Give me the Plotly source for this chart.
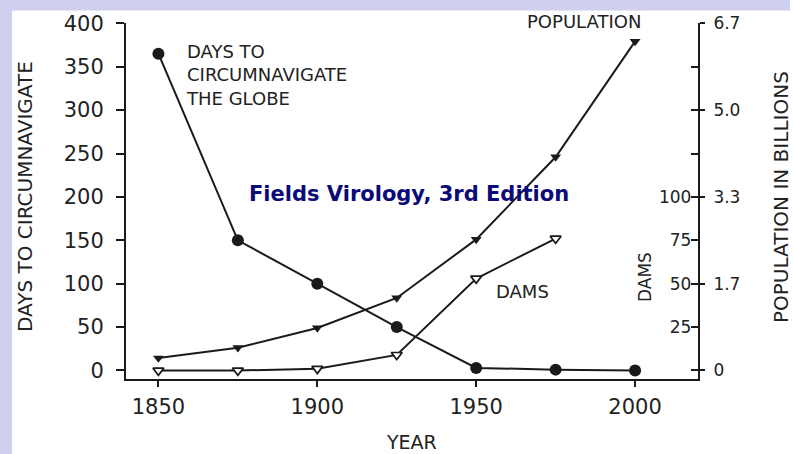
import plotly.graph_objects as go

# ---------------- data ----------------
years = [1850, 1875, 1900, 1925, 1950, 1975, 2000]
days_to_circumnavigate = [365, 150, 100, 50, 3, 1, 0]
population_billions = [0.24, 0.44, 0.82, 1.40, 2.53, 4.12, 6.35]
dam_years = [1850, 1875, 1900, 1925, 1950, 1975]
dams = [0, 0, 1, 9, 53, 76]

x_ticks = [1850, 1900, 1950, 2000]
days_ticks = [0, 50, 100, 150, 200, 250, 300, 350, 400]
pop_tickvals = [0, 1.675, 3.35, 5.025, 6.7]
pop_ticktext = ["0", "1.7", "3.3", "5.0", "6.7"]
dam_tickvals = [0, 25, 50, 75, 100, 125, 150, 175, 200]
dam_ticktext = ["0", "25", "50", "75", "100", "", "", "", ""]

# ---------------- layout geometry ----------------
W, H = 793, 454
L, R, T, B = 126, 95, 23, 75
PW, PH = W - L - R, H - T - B


def px(xp):
    return (xp - L) / PW


def py(yp):
    return (H - B - yp) / PH


INK = "#1a1a1a"
TXT = "#222222"
FONT = "DejaVu Sans"
LAV = "#CED0EE"

fig = go.Figure()

fig.add_trace(go.Scatter(
    x=years, y=days_to_circumnavigate, mode="lines+markers",
    line=dict(color=INK, width=2),
    marker=dict(symbol="circle", size=12, color=INK),
    showlegend=False, yaxis="y", cliponaxis=False))

fig.add_trace(go.Scatter(
    x=years, y=population_billions, mode="lines+markers",
    line=dict(color=INK, width=2),
    marker=dict(symbol="triangle-down", size=9.5, color=INK),
    showlegend=False, yaxis="y2", cliponaxis=False))

fig.add_trace(go.Scatter(
    x=dam_years, y=dams, mode="lines+markers",
    line=dict(color=INK, width=2),
    marker=dict(symbol="triangle-down", size=9.5, color="white",
                line=dict(color=INK, width=1.7)),
    showlegend=False, yaxis="y3", cliponaxis=False))

days_range = [-9.8, 400.35]

fig.update_layout(
    width=W, height=H,
    margin=dict(l=L, r=R, t=T, b=B, autoexpand=False),
    paper_bgcolor="white", plot_bgcolor="white",
    font=dict(family=FONT, color=TXT),
    xaxis=dict(
        range=[1839.8, 2019.8], tickvals=x_ticks, ticks="outside",
        ticklen=6, tickwidth=2, tickcolor=INK, showline=True,
        linecolor=INK, linewidth=2, showgrid=False, zeroline=False,
        tickfont=dict(size=21, color=TXT), ticklabelstandoff=2),
    yaxis=dict(
        range=days_range, tickvals=days_ticks, ticks="outside",
        ticklen=8, tickwidth=2, tickcolor=INK, showline=True,
        linecolor=INK, linewidth=2, showgrid=False, zeroline=False,
        tickfont=dict(size=21, color=TXT), ticklabelstandoff=8),
    yaxis2=dict(
        range=[v * 6.7 / 400 for v in days_range], overlaying="y",
        side="right", anchor="x", tickvals=pop_tickvals,
        ticktext=pop_ticktext, ticks="outside", ticklen=5, tickwidth=2,
        tickcolor=INK, showline=True, linecolor=INK, linewidth=2,
        showgrid=False, zeroline=False,
        tickfont=dict(size=17, color=TXT), ticklabelstandoff=5),
    yaxis3=dict(
        range=[v / 2 for v in days_range], overlaying="y",
        side="right", anchor="x", tickvals=dam_tickvals,
        ticktext=dam_ticktext, ticks="inside", ticklen=7, tickwidth=2,
        tickcolor=INK, ticklabelposition="inside", showline=False,
        showgrid=False, zeroline=False,
        tickfont=dict(size=17, color=TXT)),
)

# lavender frame strips (left and top)
fig.add_shape(type="rect", xref="paper", yref="paper",
              x0=px(0), x1=px(12), y0=py(H), y1=py(0),
              fillcolor=LAV, line=dict(width=0), layer="below")
fig.add_shape(type="rect", xref="paper", yref="paper",
              x0=px(0), x1=px(790), y0=py(10.5), y1=py(0),
              fillcolor=LAV, line=dict(width=0), layer="below")

ann = []
# axis titles
ann.append(dict(text="YEAR", x=px(411), y=py(442), font=dict(size=19)))
ann.append(dict(text="DAYS TO CIRCUMNAVIGATE", x=px(25), y=py(197),
                textangle=-90, font=dict(size=20)))
ann.append(dict(text="POPULATION IN BILLIONS", x=px(781), y=py(197),
                textangle=-90, font=dict(size=20)))
ann.append(dict(text="DAMS", x=px(645), y=py(277), textangle=-90,
                font=dict(size=17)))
# in-plot labels
ann.append(dict(text="DAYS TO<br>CIRCUMNAVIGATE<br>THE GLOBE", x=px(184),
                y=py(39), xanchor="left", yanchor="top", align="left",
                font=dict(size=18)))
ann.append(dict(text="POPULATION", x=px(584), y=py(21.5), font=dict(size=18)))
ann.append(dict(text="DAMS", x=px(522), y=py(291), font=dict(size=18)))
ann.append(dict(text="Fields Virology, 3rd Edition", x=px(409), y=py(194),
                font=dict(size=21, family="DejaVu Sans", color="#0a0a78",
                          weight="bold")))

for a in ann:
    a.setdefault("xanchor", "center")
    a.setdefault("yanchor", "middle")
    a.update(xref="paper", yref="paper", showarrow=False)
    a["font"].setdefault("family", FONT)
    a["font"].setdefault("color", TXT)
    fig.add_annotation(**a)

fig.write_html(
    "out.html",
    config={"displayModeBar": False, "staticPlot": True},
    post_script="document.body.style.margin='0';document.body.style.padding='0';",
)
